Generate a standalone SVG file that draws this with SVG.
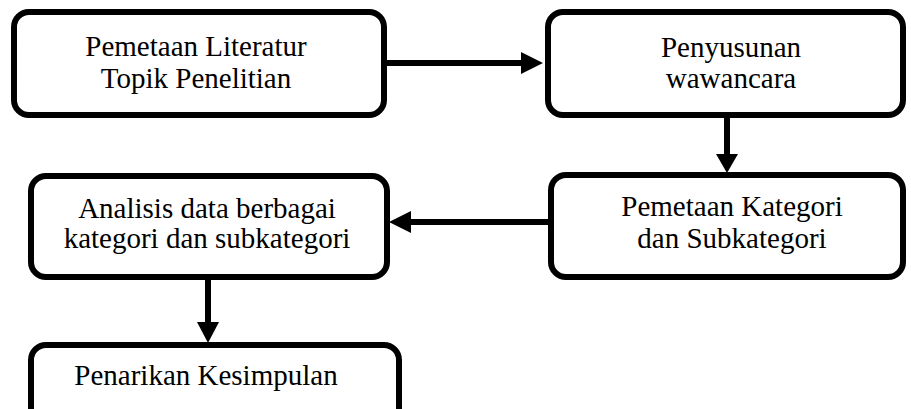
<svg xmlns="http://www.w3.org/2000/svg" width="911" height="409" viewBox="0 0 911 409">
<style>
.box{fill:#fff;stroke:#000;stroke-width:6}
.t{font-family:'Liberation Serif','Times New Roman',Tinos,'DejaVu Serif',serif;font-size:29px;fill:#000;text-anchor:middle}
.ln{stroke:#000;stroke-width:6;fill:none}
.hd{fill:#000}
</style>
<rect width="911" height="409" fill="#fff"/>
<g id="connectors">
<line class="ln" x1="384" y1="63" x2="524" y2="63"/>
<polygon class="hd" points="521,52 543,63 521,74"/>
<line class="ln" x1="727" y1="115" x2="727" y2="157"/>
<polygon class="hd" points="716,154 738,154 727,173"/>
<line class="ln" x1="551" y1="222" x2="408" y2="222"/>
<polygon class="hd" points="411,211 389,222 411,233"/>
<line class="ln" x1="208" y1="277" x2="208" y2="325"/>
<polygon class="hd" points="197,322 219,322 208,343"/>
</g>
<g id="n1">
<rect class="box" x="14" y="12" width="370" height="103" rx="15"/>
<text class="t" font-family="Liberation Serif" x="196" y="56">Pemetaan Literatur</text>
<text class="t" font-family="Liberation Serif" x="196" y="88">Topik Penelitian</text>
</g>
<g id="n2">
<rect class="box" x="548" y="12" width="355" height="103" rx="15"/>
<text class="t" x="731" y="57">Penyusunan</text>
<text class="t" x="731" y="88">wawancara</text>
</g>
<g id="n3">
<rect class="box" x="551" y="175" width="352" height="102" rx="15"/>
<text class="t" x="732" y="216">Pemetaan Kategori</text>
<text class="t" x="732" y="248">dan Subkategori</text>
</g>
<g id="n4">
<rect class="box" x="31" y="176" width="356" height="101" rx="15"/>
<text class="t" x="207" y="218">Analisis data berbagai</text>
<text class="t" x="207" y="248">kategori dan subkategori</text>
</g>
<g id="n5">
<rect class="box" x="31" y="345" width="368" height="100" rx="15"/>
<text class="t" x="206" y="385">Penarikan Kesimpulan</text>
</g>
</svg>
